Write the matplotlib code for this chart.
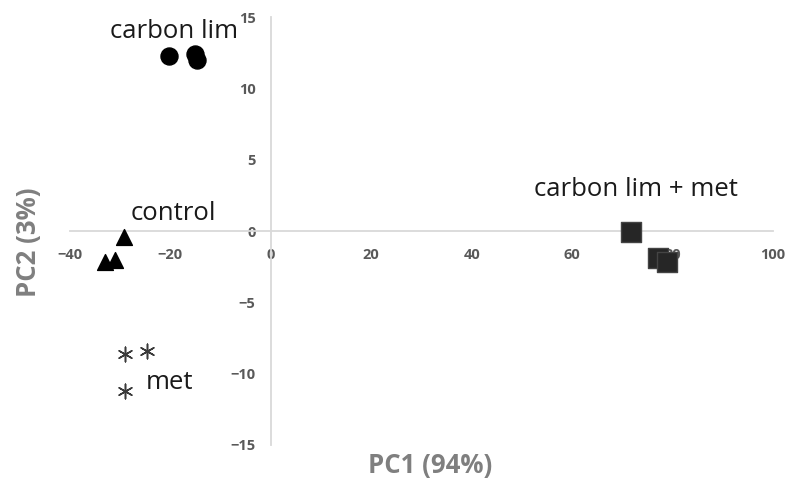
import matplotlib.pyplot as plt

plt.rcParams['font.family'] = ['Open Sans', 'DejaVu Sans']

# scores
carbon_x = [-20.3, -15.0, -14.6]
carbon_y = [12.3, 12.4, 12.0]
control_x = [-29.3, -31.1, -33.1]
control_y = [-0.4, -2.0, -2.2]
met_x = [-29.1, -24.7, -29.1]
met_y = [-8.6, -8.4, -11.2]
cm_x = [71.7, 77.1, 78.9]
cm_y = [-0.1, -1.9, -2.2]

xticks = [-40, -20, 0, 20, 40, 60, 80, 100]
yticks = [-15, -10, -5, 0, 5, 10, 15]

fig = plt.figure(figsize=(7.88, 4.84), dpi=100)
ax = fig.add_axes([0.0888, 0.0806, 0.892, 0.884])

ax.scatter(carbon_x, carbon_y, marker='o', s=150, color='black', zorder=3)
ax.scatter(control_x, control_y, marker='^', s=130, color='black', zorder=3)
ax.scatter(met_x, met_y, marker=(6, 2, 0), s=110, color='#3a3a3a', linewidths=1.1, zorder=3)
ax.scatter(cm_x, cm_y, marker='s', s=190, color='#262626', edgecolors='#444444', zorder=3)

ax.set_xlim(-40, 100)
ax.set_ylim(-15, 15)
ax.set_xticks(xticks)
ax.set_yticks(yticks)

for s in ['top', 'right']:
    ax.spines[s].set_visible(False)
ax.spines['left'].set_position(('data', 0))
ax.spines['bottom'].set_position(('data', 0))
for s in ['left', 'bottom']:
    ax.spines[s].set_color('#d9d9d9')
    ax.spines[s].set_linewidth(1.3)
ax.tick_params(length=0, labelsize=10.5, labelcolor='#595959')
ax.tick_params(axis='x', pad=12)
ax.tick_params(axis='y', pad=11)
for t in ax.get_xticklabels() + ax.get_yticklabels():
    t.set_fontweight('bold')

ax.text(-32, 14.0, 'carbon lim', fontsize=18.5, color='#1a1a1a', va='center')
ax.text(-28, 1.2, 'control', fontsize=18.5, color='#1a1a1a', va='center')
ax.text(-25, -10.6, 'met', fontsize=18.5, color='#1a1a1a', va='center')
ax.text(52.5, 2.9, 'carbon lim + met', fontsize=18.5, color='#1a1a1a', va='center')

fig.text(0.546, 0.039, 'PC1 (94%)', fontsize=18.5, fontweight='bold', color='#7f7f7f', ha='center', va='center')
fig.text(0.036, 0.5, 'PC2 (3%)', fontsize=18.5, fontweight='bold', color='#7f7f7f', ha='center', va='center', rotation=90)

fig.savefig('out.png', dpi=100)
